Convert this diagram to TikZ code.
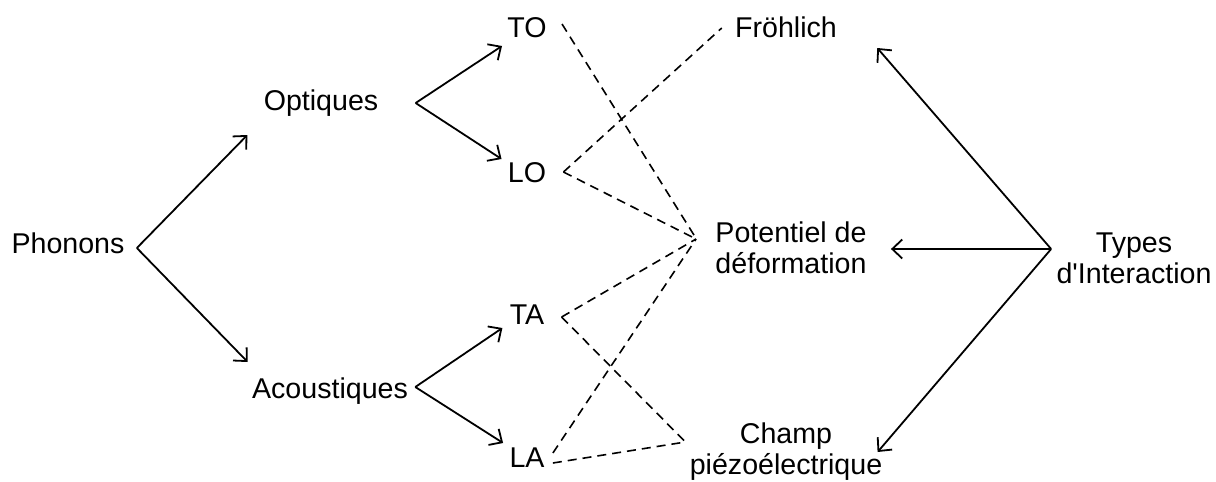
\documentclass[tikz,border=0pt]{standalone}
\usepackage{fontspec}
\setmainfont{Liberation Sans}
\usetikzlibrary{arrows.meta}
\tikzset{
  lbl/.style={font=\fontsize{14.3}{15.5}\selectfont,inner sep=0pt},
  lbl2/.style={lbl,align=center},
  arr/.style={line width=0.9pt,-{Straight Barb[length=5pt,width=9.5pt,line width=0.9pt]}},
  lnk/.style={line width=0.8pt,dash pattern=on 4.5pt off 3pt}
}

\begin{document}
\begin{tikzpicture}[x=0.5pt,y=-0.5pt]
  \useasboundingbox (0,0) rectangle (1216,482);
  \node[lbl,anchor=base] (phonons) at (68,253) {Phonons};
  \node[lbl,anchor=base] (optiques) at (321,110) {Optiques};
  \node[lbl,anchor=base] (acoustiques) at (330,398) {Acoustiques};
  \node[lbl,anchor=base] (to) at (527,37) {TO};
  \node[lbl,anchor=base] (lo) at (527,182) {LO};
  \node[lbl,anchor=base] (ta) at (527,324) {TA};
  \node[lbl,anchor=base] (la) at (527,467) {LA};
  \node[lbl,anchor=base] (frohlich) at (786,38) {Fröhlich};
  \node[lbl2] (potentiel) at (791,248) {Potentiel de\\déformation};
  \node[lbl2] (champ) at (786,452) {Champ\\piézoélectrique};
  \node[lbl2] (types) at (1134,258) {Types\\d\textquotesingle Interaction};

  \draw[arr] ([shift={(12,-5)}]phonons.base east) -- ([shift={(-16,25)}]optiques.base west);
  \draw[arr] ([shift={(12,-5)}]phonons.base east) -- ([shift={(-4,-36)}]acoustiques.base west);
  \draw[arr] ([shift={(37,-7)}]optiques.base east) -- ([shift={(-5,9)}]to.base west);
  \draw[arr] ([shift={(37,-7)}]optiques.base east) -- ([shift={(-6,-23)}]lo.base west);
  \draw[arr] ([shift={(7,-11)}]acoustiques.base east) -- ([shift={(-7,4)}]ta.base west);
  \draw[arr] ([shift={(7,-11)}]acoustiques.base east) -- ([shift={(-6,-24)}]la.base west);
  \draw[arr] ([shift={(-5,-9)}]types.west) -- ([shift={(40,10)}]frohlich.base east);
  \draw[arr] ([shift={(-5,-9)}]types.west) -- ([shift={(24,1)}]potentiel.east);
  \draw[arr] ([shift={(-5,-9)}]types.west) -- ([shift={(-5,0)}]champ.east);

  \draw[lnk] ([shift={(15,-13)}]to.base east) -- ([shift={(-18,-8)}]potentiel.west);
  \draw[lnk] ([shift={(17,-10)}]lo.base east) -- ([shift={(-13,-10)}]frohlich.base west);
  \draw[lnk] ([shift={(17,-10)}]lo.base east) -- ([shift={(-19,-9)}]potentiel.west);
  \draw[lnk] ([shift={(17,-7)}]ta.base east) -- ([shift={(-19,-9)}]potentiel.west);
  \draw[lnk] ([shift={(17,-7)}]ta.base east) -- ([shift={(-4,-10)}]champ.west);
  \draw[lnk] ([shift={(8,-14)}]la.base east) -- ([shift={(-19,-9)}]potentiel.west);
  \draw[lnk] ([shift={(8,-4)}]la.base east) -- ([shift={(-4,-10)}]champ.west);
\end{tikzpicture}
\end{document}
